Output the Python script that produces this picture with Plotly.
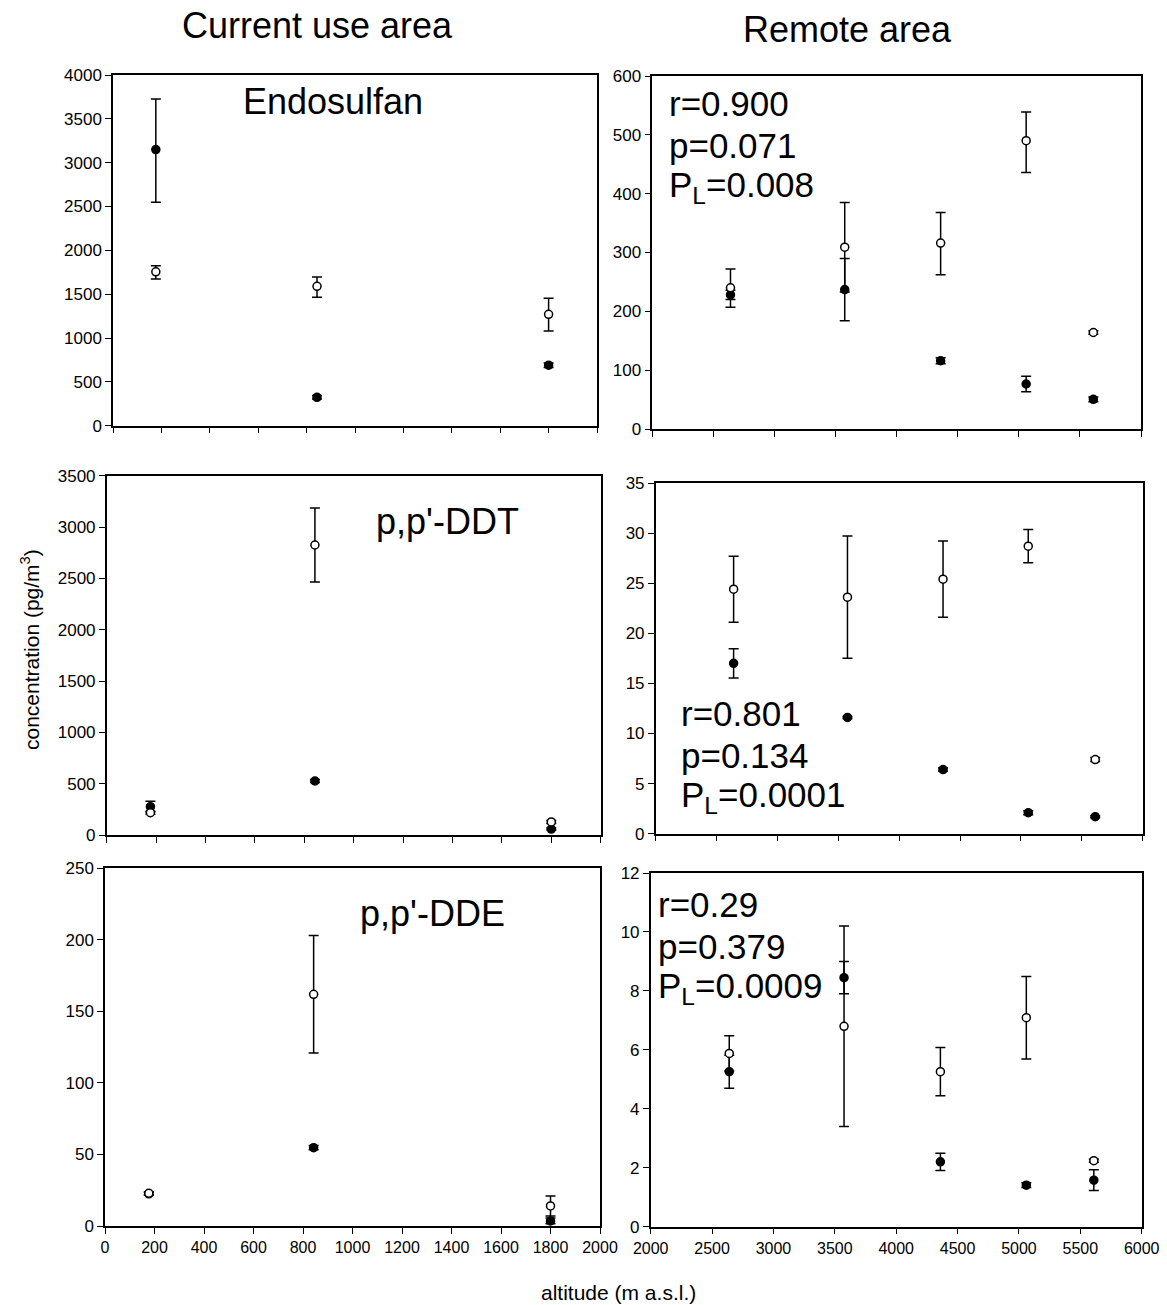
import plotly.graph_objects as go

W, H = 1167, 1305
FONT = "Arial, Liberation Sans, sans-serif"

# ---------------- data ----------------
current_alt = [177, 843, 1800]
remote_alt = [2640, 3575, 4360, 5060, 5610]

# Endosulfan
endo_cur_filled = [3150, 324, 690]
endo_cur_filled_up = [575, 20, 25]
endo_cur_filled_dn = [600, 20, 25]
endo_cur_open = [1755, 1590, 1270]
endo_cur_open_up = [70, 105, 185]
endo_cur_open_dn = [82, 125, 190]
endo_rem_filled = [228, 237, 116, 76.5, 50.5]
endo_rem_filled_err = [8, 53, 5, 13, 4]
endo_rem_open = [240, 309, 316, 490, 164]
endo_rem_open_up = [32, 76, 52, 49, 3]
endo_rem_open_dn = [33, 76, 54, 54, 3]

# p,p'-DDT
ddt_cur_filled = [276, 526, 58]
ddt_cur_filled_err = [52, 15, 10]
ddt_cur_open = [217, 2825, 127]
ddt_cur_open_err = [15, 360, 15]
ddt_rem_filled = [17.0, 11.6, 6.4, 2.1, 1.7]
ddt_rem_filled_err = [1.45, 0.1, 0.15, 0.2, 0.1]
ddt_rem_open = [24.4, 23.6, 25.4, 28.7, 7.4]
ddt_rem_open_err = [3.3, 6.1, 3.8, 1.65, 0.2]

# p,p'-DDE
dde_cur_filled = [22.5, 54.7, 3.5]
dde_cur_filled_err = [1, 1.5, 2]
dde_cur_open = [22.8, 161.8, 14]
dde_cur_open_err = [1, 41, 7]
dde_rem_filled = [5.26, 8.45, 2.2, 1.41, 1.58]
dde_rem_filled_err = [0.56, 0.55, 0.29, 0.08, 0.35]
dde_rem_open = [5.88, 6.8, 5.26, 7.09, 2.24]
dde_rem_open_err = [0.6, 3.4, 0.82, 1.4, 0.05]

left_xticks = list(range(0, 2001, 200))
right_xticks = list(range(2000, 6001, 500))

# ---------------- figure ----------------
fig = go.Figure()


def add(xs, ys, up, dn, filled, ax):
    fig.add_trace(go.Scatter(
        x=xs, y=ys, mode="markers",
        xaxis="x" + ax, yaxis="y" + ax,
        showlegend=False, cliponaxis=False,
        error_y=dict(type="data", array=up, arrayminus=dn, symmetric=False,
                     color="black", thickness=1.5, width=5),
        marker=dict(size=8, symbol="circle",
                    color="black" if filled else "white",
                    line=dict(color="black", width=1.5)),
    ))


# panel keys: "" TL, "2" TR, "3" ML, "4" MR, "5" BL, "6" BR
add(current_alt, endo_cur_filled, endo_cur_filled_up, endo_cur_filled_dn, True, "")
add(current_alt, endo_cur_open, endo_cur_open_up, endo_cur_open_dn, False, "")
add(remote_alt, endo_rem_filled, endo_rem_filled_err, endo_rem_filled_err, True, "2")
add(remote_alt, endo_rem_open, endo_rem_open_up, endo_rem_open_dn, False, "2")
add(current_alt, ddt_cur_filled, ddt_cur_filled_err, ddt_cur_filled_err, True, "3")
add(current_alt, ddt_cur_open, ddt_cur_open_err, ddt_cur_open_err, False, "3")
add(remote_alt, ddt_rem_filled, ddt_rem_filled_err, ddt_rem_filled_err, True, "4")
add(remote_alt, ddt_rem_open, ddt_rem_open_err, ddt_rem_open_err, False, "4")
add(current_alt, dde_cur_filled, dde_cur_filled_err, dde_cur_filled_err, True, "5")
add(current_alt, dde_cur_open, dde_cur_open_err, dde_cur_open_err, False, "5")
add(remote_alt, dde_rem_filled, dde_rem_filled_err, dde_rem_filled_err, True, "6")
add(remote_alt, dde_rem_open, dde_rem_open_err, dde_rem_open_err, False, "6")


def dx(a, b):
    return [a / W, b / W]


def dy(top, bottom):
    return [1 - bottom / H, 1 - top / H]


common = dict(showline=True, mirror=True, linecolor="black", linewidth=1.5,
              ticks="outside", ticklen=6, tickwidth=1.2, tickcolor="black",
              showgrid=False, zeroline=False, fixedrange=True, automargin=False)

panels = {
    "": dict(xd=dx(113, 597), yd=dy(75, 425.7), xr=[0, 2000], xt=left_xticks,
             yr=[0, 4000], ydt=500, lab=False),
    "2": dict(xd=dx(652.3, 1141), yd=dy(76, 429), xr=[2000, 6000], xt=right_xticks,
              yr=[0, 600], ydt=100, lab=False),
    "3": dict(xd=dx(106.7, 600.7), yd=dy(475.7, 835), xr=[0, 2000], xt=left_xticks,
              yr=[0, 3500], ydt=500, lab=False),
    "4": dict(xd=dx(655.7, 1142.7), yd=dy(483, 833.7), xr=[2000, 6000], xt=right_xticks,
              yr=[0, 35], ydt=5, lab=False),
    "5": dict(xd=dx(105, 600), yd=dy(868, 1226), xr=[0, 2000], xt=left_xticks,
              yr=[0, 250], ydt=50, lab=True),
    "6": dict(xd=dx(650.7, 1141.7), yd=dy(873, 1226.7), xr=[2000, 6000], xt=right_xticks,
              yr=[0, 12], ydt=2, lab=True),
}

layout = dict(width=W, height=H, margin=dict(l=0, r=0, t=0, b=0, pad=0),
              autosize=False, template="none",
              paper_bgcolor="white", plot_bgcolor="white",
              font=dict(family=FONT, color="black"), showlegend=False)
for k, p in panels.items():
    layout["xaxis" + k] = dict(common, domain=p["xd"], range=p["xr"],
                               tickmode="array", tickvals=p["xt"],
                               tickfont=dict(family=FONT, size=16, color="black"),
                               showticklabels=p["lab"], anchor="y" + k)
    layout["yaxis" + k] = dict(common, domain=p["yd"], range=p["yr"],
                               tickmode="linear", tick0=0, dtick=p["ydt"],
                               tickfont=dict(family=FONT, size=17, color="black"),
                               anchor="x" + k)
fig.update_layout(**layout)


def ann(text, x, y, size, xanchor="center", yanchor="middle", angle=0):
    fig.add_annotation(text=text, x=x / W, y=1 - y / H, xref="paper", yref="paper",
                       showarrow=False, xanchor=xanchor, yanchor=yanchor,
                       textangle=angle, font=dict(family=FONT, size=size, color="black"))


ann("Current use area", 318, 26, 36)
ann("Remote area", 847, 30, 36)
ann("Endosulfan", 333, 101, 36)
ann("p,p'-DDT", 447, 521, 36)
ann("p,p'-DDE", 432, 913, 36)

stat_lines = [
    (["r=0.900", "p=0.071", "P<sub>L</sub>=0.008"], 667, 103),
    (["r=0.801", "p=0.134", "P<sub>L</sub>=0.0001"], 679, 713),
    (["r=0.29", "p=0.379", "P<sub>L</sub>=0.0009"], 656, 904),
]
for lines, x0, y0 in stat_lines:
    for i, t in enumerate(lines):
        ann(t, x0, y0 + i * 42, 35, xanchor="left")

ann("concentration (pg/m<sup>3</sup>)", 30, 650, 21, angle=-90)
ann("altitude (m a.s.l.)", 618, 1292, 21)

fig.write_html("out.html")
